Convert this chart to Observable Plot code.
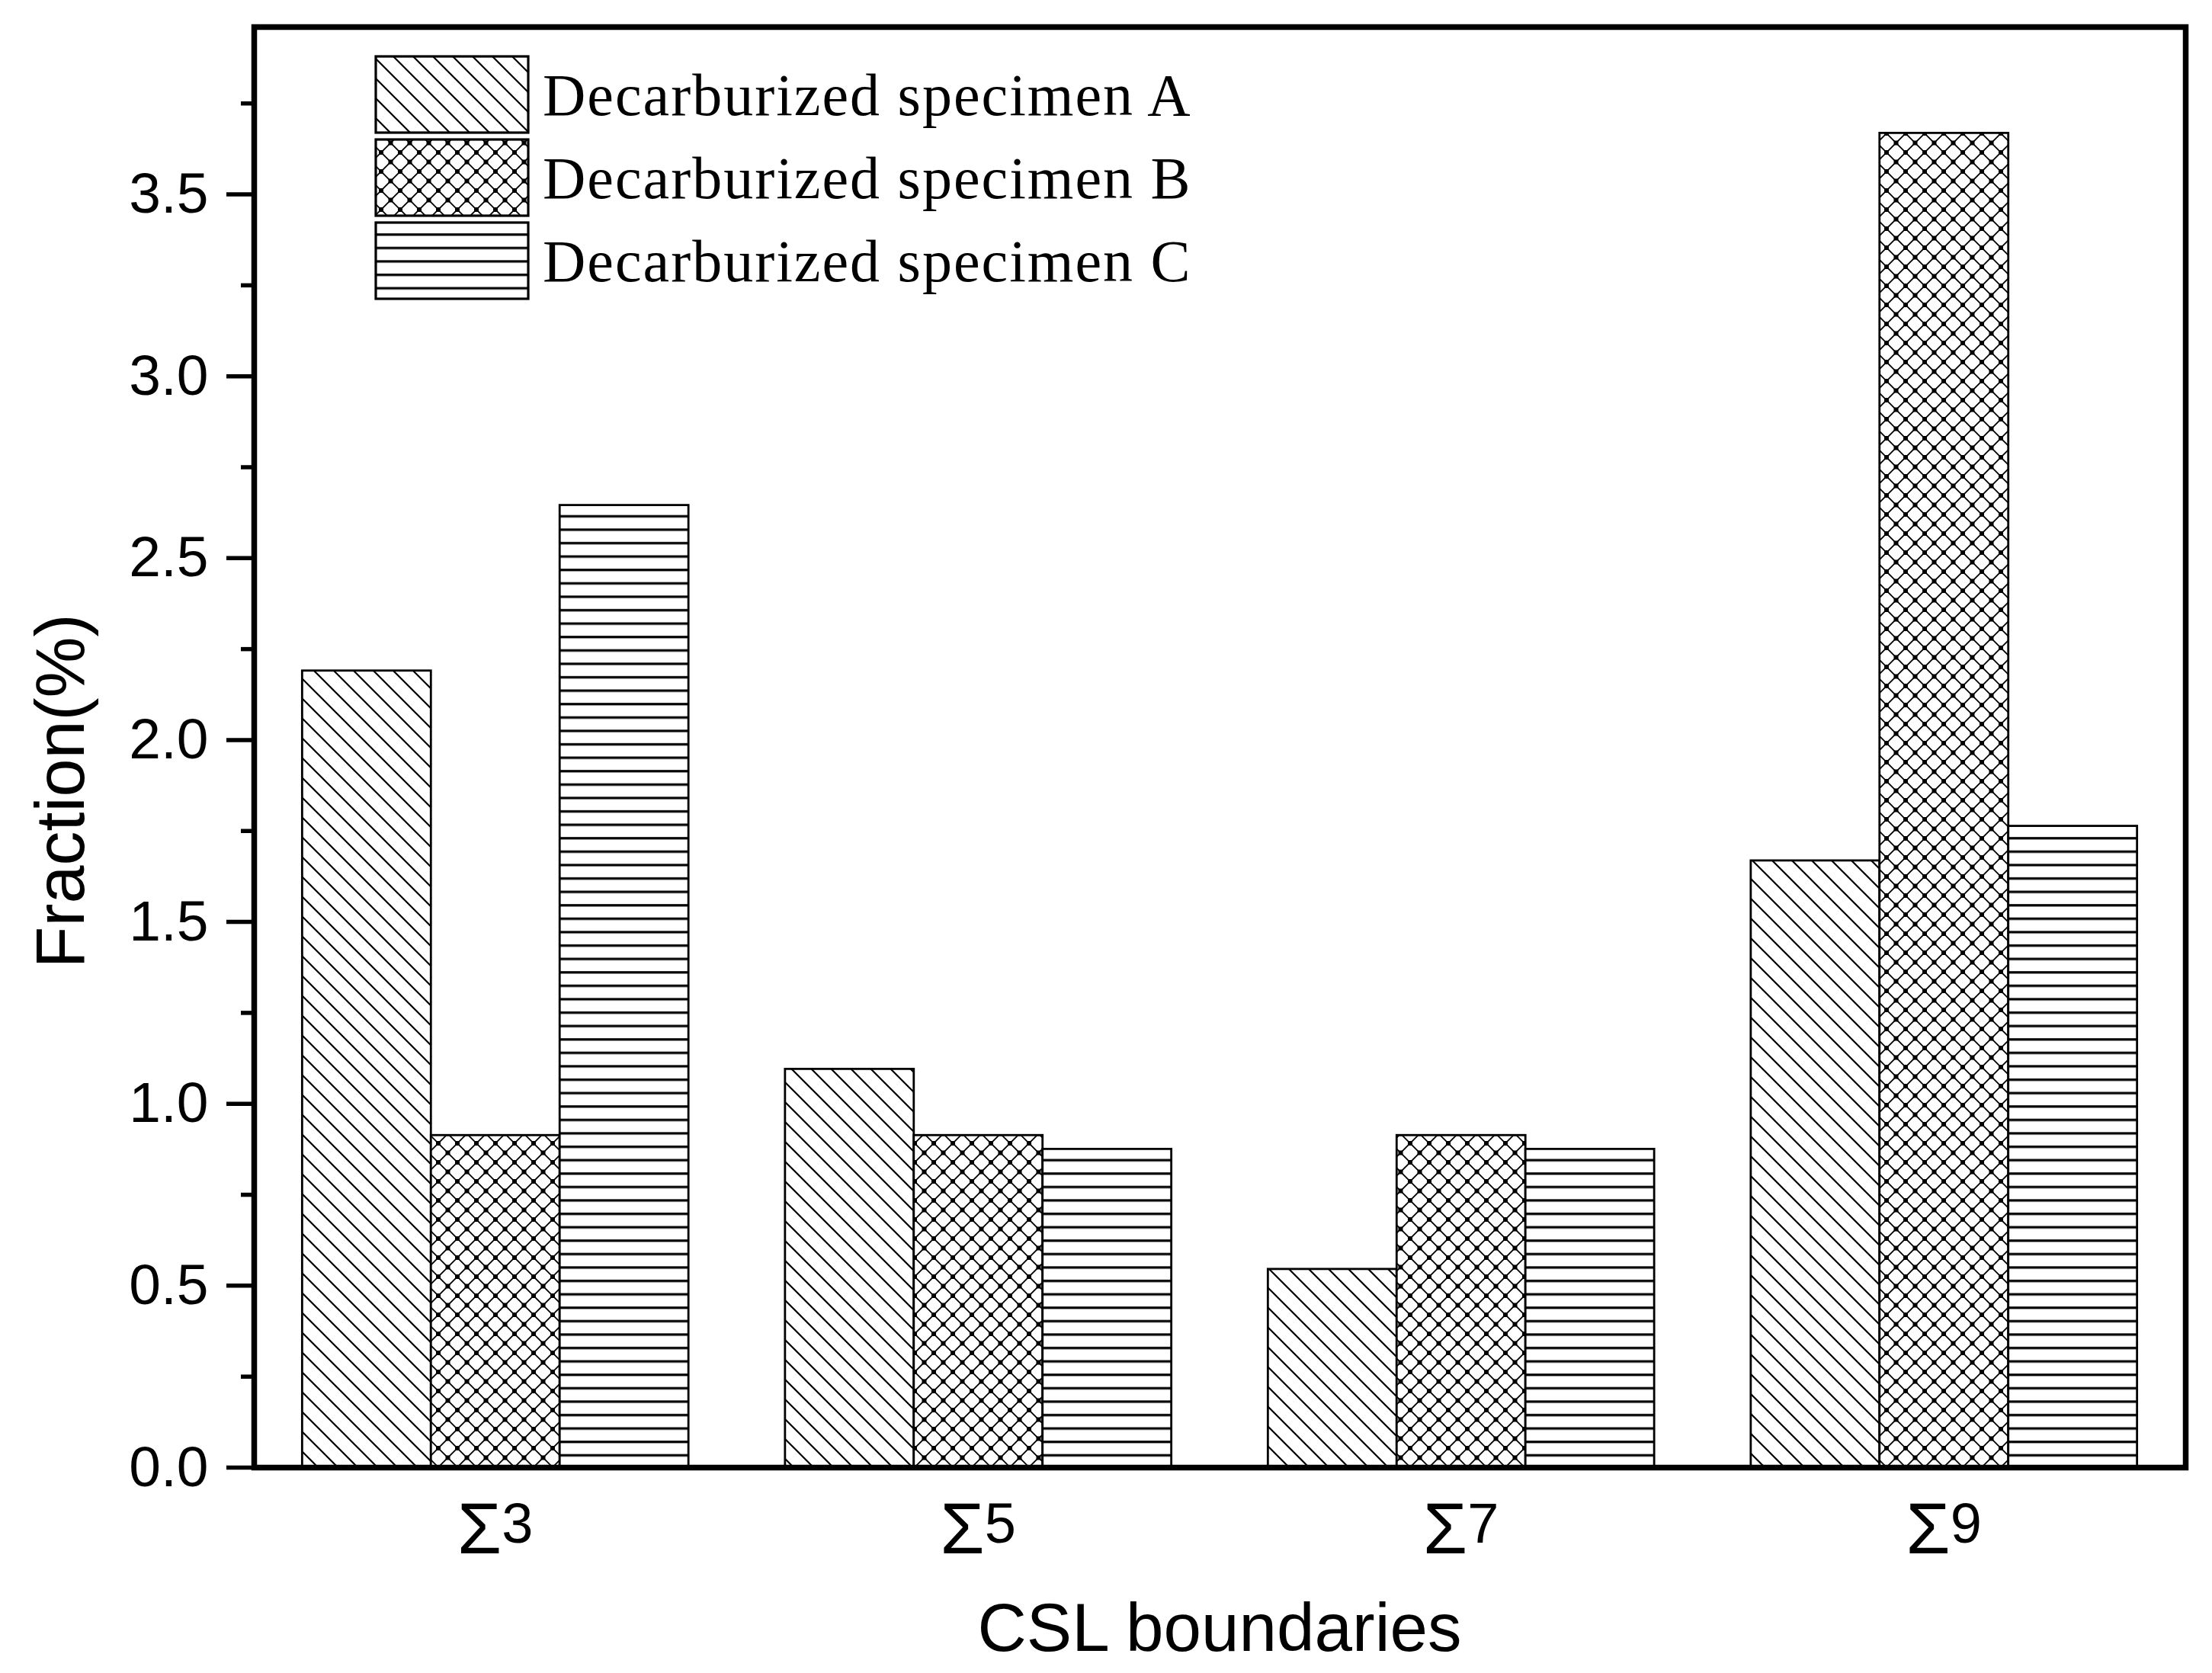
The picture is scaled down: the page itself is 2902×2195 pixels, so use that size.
<!DOCTYPE html>
<html><head><meta charset="utf-8">
<script src="https://cdn.jsdelivr.net/npm/d3@7"></script>
<script src="https://cdn.jsdelivr.net/npm/@observablehq/plot@0.6"></script>
<style>
body{margin:0;background:#fff}
#chart{position:relative;width:2902px;height:2195px}
</style>
</head><body><div id="chart"></div>
<script>
// ---- data ----
const categories = ["Σ3", "Σ5", "Σ7", "Σ9"];
const seriesNames = ["Decarburized specimen A", "Decarburized specimen B", "Decarburized specimen C"];
const valuesA = [2.19, 1.095, 0.545, 1.668];
const valuesB = [0.913, 0.913, 0.913, 3.668];
const valuesC = [2.645, 0.875, 0.875, 1.763];
const yMajorTicks = [0, 0.5, 1, 1.5, 2, 2.5, 3, 3.5];
const yMinorTicks = [0.25, 0.75, 1.25, 1.75, 2.25, 2.75, 3.25, 3.75];
const patternIds = ["patA", "patB", "patC"];
const xTitle = "CSL boundaries";
const yTitle = "Fraction(%)";

// build table: each category occupies one unit band; the 3 bars fill 80% of it
const groupWidth = 0.8;
const rows = [];
[valuesA, valuesB, valuesC].forEach((vals, s) => vals.forEach((v, g) => {
  const x1 = g + (1 - groupWidth) / 2 + s * groupWidth / 3;
  rows.push({category: categories[g], series: seriesNames[s], s, value: v, x1, x2: x1 + groupWidth / 3});
}));

const barMarks = patternIds.map((pid, s) => Plot.rect(rows, {
  filter: d => d.s === s,
  x1: "x1", x2: "x2", y1: 0, y2: "value",
  fill: `url(#${pid})`, stroke: "black", strokeWidth: 2.8
}));

const plot = Plot.plot({
  width: 2902, height: 2195,
  marginLeft: 333, marginRight: 35, marginTop: 35, marginBottom: 270,
  x: {domain: [0, 4], axis: null},
  y: {domain: [0, 3.96]},
  style: {fontFamily: "'Liberation Sans', Arial, sans-serif", fontSize: "75px", color: "black", background: "white"},
  marks: [
    ...barMarks,
    Plot.axisY({ticks: yMinorTicks, tickSize: 17, tickFormat: () => "", strokeWidth: 5.5, label: null}),
    Plot.axisY({ticks: yMajorTicks, tickSize: 36, tickPadding: 24, tickFormat: d3.format(".1f"), fontSize: 75, strokeWidth: 5.5, label: null}),
    Plot.frame({stroke: "black", strokeWidth: 7.5})
  ]
});

// ---- patterns ----
const svg = d3.select(plot);
const defs = svg.insert("defs", ":first-child");
// A: backward diagonal lines
const pA = defs.append("pattern").attr("id", "patA").attr("patternUnits", "userSpaceOnUse").attr("width", 26).attr("height", 26);
pA.append("rect").attr("width", 26).attr("height", 26).attr("fill", "white");
pA.append("path").attr("d", "M-3,-3L29,29M-3,23L3,29M23,-3L29,3").attr("stroke", "black").attr("stroke-width", 2.2);
// B: crosshatch with dots
const pB = defs.append("pattern").attr("id", "patB").attr("patternUnits", "userSpaceOnUse").attr("width", 25).attr("height", 25);
pB.append("rect").attr("width", 25).attr("height", 25).attr("fill", "white");
pB.append("path").attr("d", "M-3,-3L28,28M28,-3L-3,28M-3,22L3,28M22,-3L28,3M22,28L28,22M-3,3L3,-3").attr("stroke", "black").attr("stroke-width", 1.8);
[[0,0],[25,0],[0,25],[25,25],[12.5,12.5]].forEach(([cx, cy]) =>
  pB.append("rect").attr("x", cx - 3).attr("y", cy - 3).attr("width", 6).attr("height", 6).attr("fill", "black"));
// C: horizontal lines
const pC = defs.append("pattern").attr("id", "patC").attr("patternUnits", "userSpaceOnUse").attr("width", 20).attr("height", 17.6);
pC.append("rect").attr("width", 20).attr("height", 17.6).attr("fill", "white");
pC.append("rect").attr("y", 7).attr("width", 20).attr("height", 3.2).attr("fill", "black");

// ---- x tick labels (Σ with raised digit) ----
const xs = plot.scale("x");
const fr = plot.scale("y");
const y0 = fr.apply(0);
categories.forEach((c, g) => {
  const t = svg.append("text")
    .attr("x", xs.apply(g + 0.5)).attr("y", y0 + 113)
    .attr("text-anchor", "middle").attr("fill", "black")
    .style("font-family", "'Liberation Sans', Arial, sans-serif");
  t.append("tspan").attr("font-size", 94).text(c[0]);
  t.append("tspan").attr("font-size", 74).attr("dy", -14).text(c.slice(1));
});

// ---- axis titles ----
svg.append("text").attr("x", (xs.apply(0) + xs.apply(4)) / 2).attr("y", 2166)
  .attr("text-anchor", "middle").attr("font-size", 89).attr("fill", "black")
  .style("font-family", "'Liberation Sans', Arial, sans-serif").text(xTitle);
svg.append("text").attr("transform", `translate(110,${(fr.apply(0) + fr.apply(3.96)) / 2 + 58}) rotate(-90)`)
  .attr("text-anchor", "middle").attr("font-size", 90).attr("fill", "black")
  .style("font-family", "'Liberation Sans', Arial, sans-serif").text(yTitle);

// ---- legend ----
const lg = svg.append("g").attr("text-anchor", "start");
seriesNames.forEach((name, i) => {
  const top = 74 + i * 109;
  lg.append("rect").attr("x", 493).attr("y", top).attr("width", 200).attr("height", 100)
    .attr("fill", `url(#${patternIds[i]})`).attr("stroke", "black").attr("stroke-width", 3.2);
  lg.append("text").attr("x", 712).attr("y", top + 77).attr("text-anchor", "start")
    .attr("font-size", 78).attr("fill", "black").attr("letter-spacing", 2)
    .style("font-family", "'Liberation Serif', 'Times New Roman', serif").text(name);
});

document.getElementById("chart").appendChild(plot);
</script>
</body></html>
